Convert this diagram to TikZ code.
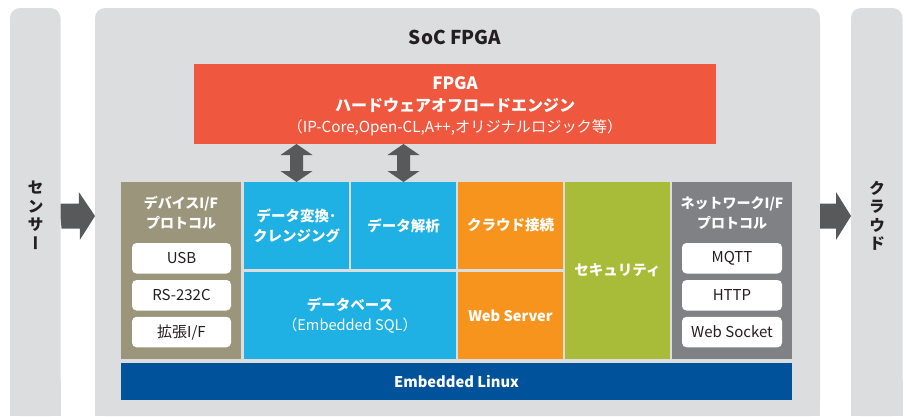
\documentclass[tikz,border=0pt]{standalone}
\usepackage{fontspec}
\setmainfont{Noto Sans CJK JP}
\newfontfamily\vertfont{Noto Sans CJK JP}[RawFeature=+vert]
\definecolor{panel}{HTML}{DCDDDF}
\definecolor{fpgared}{HTML}{F0573F}
\definecolor{skyblue}{HTML}{1FB0E4}
\definecolor{orng}{HTML}{F7941D}
\definecolor{lime}{HTML}{A9BC3A}
\definecolor{netgray}{HTML}{808184}
\definecolor{olive}{HTML}{9A957B}
\definecolor{linuxblue}{HTML}{00529B}
\definecolor{arrowgray}{HTML}{58595B}
\definecolor{ink}{HTML}{231F20}
\begin{document}
\begin{tikzpicture}[x=1pt,y=-1pt,
  panelbox/.style={fill=panel, rounded corners=10pt, inner sep=0pt, outer sep=0pt, anchor=north west},
  blk/.style={inner sep=0pt, outer sep=0pt, anchor=north west, text=white, align=center,
    font=\bfseries\fontsize{14.5}{20}\selectfont},
  lbl/.style={inner sep=0pt, text=white, align=center, font=\bfseries\fontsize{14}{20}\selectfont},
  wbox/.style={fill=white, rounded corners=4.5pt, inner sep=0pt, outer sep=0pt, anchor=north west,
    minimum height=30.5pt, text=ink, font=\fontsize{15}{18}\selectfont},
  vtext/.style={inner sep=0pt, anchor=north, text=ink, align=center,
    font=\vertfont\bfseries\fontsize{16}{18.5}\selectfont},
  bigarrow/.style={fill=arrowgray}]
\useasboundingbox (0,0) rectangle (907,416);

% side panels and SoC panel (rounded at the top only)
\node[panelbox, minimum width=50.5pt, minimum height=408pt] (sensor) at (10,8) {};
\node[panelbox, minimum width=725pt, minimum height=408pt] (soc) at (95,8) {};
\node[panelbox, minimum width=51.5pt, minimum height=408pt] (cloud) at (851,8) {};
\fill[panel] (10,380) rectangle (60.5,416);
\fill[panel] (95,380) rectangle (820,416);
\fill[panel] (851,380) rectangle (902.5,416);

\node[vtext] (sensortxt) at (35.5,181) {セ\\ン\\サ\\ー};
\node[vtext] (cloudtxt) at (877,180.5) {ク\\ラ\\ウ\\ド};

\node[inner sep=0pt, text=ink, font=\bfseries\fontsize{19}{22}\selectfont] (title) at (455,37.5) {SoC FPGA};

% FPGA block
\node[blk, fill=fpgared, minimum width=522pt, minimum height=80pt] (fpga) at (194,64) {};
\node[lbl, font=\bfseries\fontsize{17}{20}\selectfont] (fpga1) at (455,83.5) {FPGA};
\node[lbl, font=\bfseries\fontsize{16}{20}\selectfont] (fpga2) at (455,105.5) {ハードウェアオフロードエンジン};
\node[lbl, font=\fontsize{15.2}{18}\selectfont] (fpga3) at (455,127.5) {（IP-Core,Open-CL,A++,オリジナルロジック等）};

% function blocks
\node[blk, fill=olive, minimum width=119.7pt, minimum height=177pt] (dev) at (121,182) {};
\node[blk, fill=skyblue, minimum width=105pt, minimum height=87pt] (conv) at (244,182) {データ変換･\\クレンジング};
\node[blk, fill=skyblue, minimum width=105pt, minimum height=87pt] (anal) at (351,182) {データ解析};
\node[blk, fill=skyblue, minimum width=212pt, minimum height=87pt] (db) at (244,272)
  {データベース\\{\mdseries\fontsize{14.6}{20}\selectfont（Embedded SQL）}};
\node[blk, fill=orng, minimum width=105pt, minimum height=87pt] (cloudc) at (458,182) {クラウド接続};
\node[blk, fill=orng, minimum width=105pt, minimum height=87pt, font=\bfseries\fontsize{14.6}{20}\selectfont] (web) at (458,272) {Web Server};
\node[blk, fill=lime, minimum width=105pt, minimum height=177pt] (sec) at (565,182) {セキュリティ};
\node[blk, fill=netgray, minimum width=120pt, minimum height=177pt] (net) at (672,182) {};
\node[blk, fill=linuxblue, minimum width=671pt, minimum height=37pt, font=\bfseries\fontsize{14.7}{20}\selectfont] (linux) at (121,363) {Embedded Linux};

% headers
\node[lbl] (devh) at (181,213) {デバイスI/F\\プロトコル};
\node[lbl] (neth) at (732,213) {ネットワークI/F\\プロトコル};

% white item boxes
\node[wbox, minimum width=99pt] (usb) at (132,243) {USB};
\node[wbox, minimum width=99pt] (rs) at (132,280) {RS-232C};
\node[wbox, minimum width=99pt] (ext) at (132,316.8) {拡張I/F};
\node[wbox, minimum width=100pt] (mqtt) at (682,243) {MQTT};
\node[wbox, minimum width=100pt] (http) at (682,280) {HTTP};
\node[wbox, minimum width=100pt] (wsock) at (682,316.8) {Web Socket};

% double arrows between FPGA and blocks
\fill[bigarrow] (conv.north |- fpga.south) -- ++(16,11) -- ++(-9.5,0) -- ++(0,16) -- ++(9.5,0)
  -- (conv.north) -- ++(-16,-11) -- ++(9.5,0) -- ++(0,-16) -- ++(-9.5,0) -- cycle;
\fill[bigarrow] (anal.north |- fpga.south) -- ++(16,11) -- ++(-9.5,0) -- ++(0,16) -- ++(9.5,0)
  -- (anal.north) -- ++(-16,-11) -- ++(9.5,0) -- ++(0,-16) -- ++(-9.5,0) -- cycle;

% input / output arrows
\coordinate (inS) at (sensor.east |- 0,216);
\coordinate (inE) at (soc.west |- 0,216);
\coordinate (outS) at (soc.east |- 0,216);
\coordinate (outE) at (cloud.west |- 0,216);
\fill[bigarrow] (inS) -- ++(0,-12.5) -- ++(18.3,0) -- ++(0,-11.5) -- (inE) -- ++(-15.2,24)
  -- ++(0,-11.5) -- ++(-18.3,0) -- cycle;
\fill[bigarrow] (outS) -- ++(0,-12.5) -- ++(16,0) -- ++(0,-11.5) -- (outE) -- ++(-15,24)
  -- ++(0,-11.5) -- ++(-16,0) -- cycle;
\end{tikzpicture}
\end{document}
